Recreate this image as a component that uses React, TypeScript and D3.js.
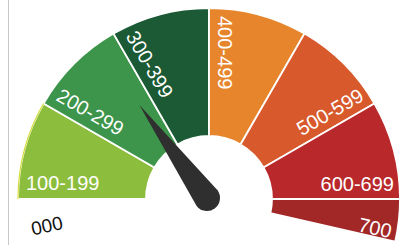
import React from "react";
import * as d3 from "d3";

const bandLabels = ["100-199", "200-299", "300-399", "400-499", "500-599", "600-699", "700"];
const bandStarts = [100, 200, 300, 400, 500, 600, 700];
const bandEnds = [200, 300, 400, 500, 600, 700, 743];
const bandColors = ["#8cbd3c", "#3c954a", "#1b5a34", "#e6852b", "#d7592c", "#b9292b", "#a22727"];
const baseLabel = "000";
const baseLabelValue = 60;
const needleValue = 280;

const W = 400;
const H = 245;
const cx = 209;
const cy = 199;
const rOuter = 191;
const rInner = 63;

export default function App() {
  const angle = d3.scaleLinear().domain([100, 700]).range([-Math.PI / 2, Math.PI / 2]);
  const mathDeg = (v: number) => 90 - (angle(v) * 180) / Math.PI;
  const arc = d3.arc<any>().innerRadius(rInner).outerRadius(rOuter);
  const outerEdge = d3.arc<any>().innerRadius(rOuter).outerRadius(rOuter);

  const theta = mathDeg(needleValue);
  const L = 115;
  const nr = 13;
  const needlePath = `M${L},0 L0,${-nr} A${nr},${nr} 0 1,0 0,${nr} Z`;

  const font = "'Liberation Sans', Arial, sans-serif";

  return (
    <svg width={W} height={H} style={{ position: "absolute", left: 0, top: 0, background: "#fff" }}>
      <rect x={0} y={0} width={W} height={H} fill="#fff" />
      <line x1={8.5} y1={0} x2={8.5} y2={H} stroke="#c8c8c8" strokeWidth={1} />
      <g transform={`translate(${cx},${cy})`}>
        {bandLabels.map((lab, i) => (
          <path
            key={lab}
            d={arc({ startAngle: angle(bandStarts[i]), endAngle: angle(bandEnds[i]) }) as string}
            fill={bandColors[i]}
            stroke="#fff"
            strokeWidth={1.8}
          />
        ))}
        <path
          d={outerEdge({ startAngle: angle(bandStarts[0]), endAngle: angle(bandEnds[0]) }) as string}
          fill="none"
          stroke="#d6dc3c"
          strokeWidth={1.2}
        />
        {bandLabels.map((lab, i) => {
          const left = i <= 3;
          if (left) {
            const t = mathDeg(bandStarts[i]);
            return (
              <text
                key={lab}
                transform={`rotate(${180 - t})`}
                x={-183}
                y={-9}
                textAnchor="start"
                fill="#fff"
                fontFamily={font}
                fontSize={20}
              >
                {lab}
              </text>
            );
          }
          const t = mathDeg(bandEnds[i]);
          const last = i === bandLabels.length - 1;
          return (
            <text
              key={lab}
              transform={`rotate(${-t})`}
              x={185}
              y={last ? -2 : -8}
              textAnchor="end"
              fill="#fff"
              fontFamily={font}
              fontSize={20}
            >
              {lab}
            </text>
          );
        })}
        <text
          transform={`rotate(${180 - mathDeg(baseLabelValue)})`}
          x={-180}
          y={-1}
          textAnchor="start"
          fill="#111"
          fontFamily={font}
          fontSize={19}
        >
          {baseLabel}
        </text>
        <g transform={`translate(-2,-1) rotate(${-theta})`}>
          <path d={needlePath} fill="#2f2f2f" />
        </g>
      </g>
    </svg>
  );
}
